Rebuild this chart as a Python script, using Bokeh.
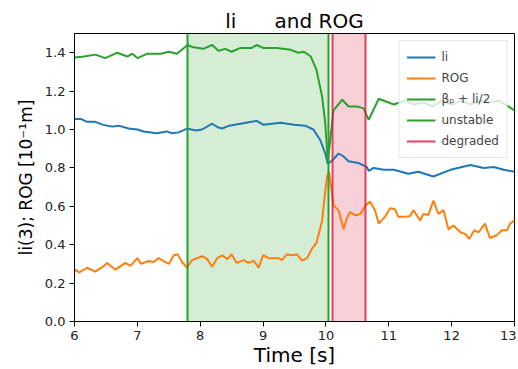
from bokeh.plotting import figure
from bokeh.embed import file_html
from bokeh.resources import INLINE
from bokeh.models import FixedTicker, Range1d, Legend, CustomJSTickFormatter

# ---- data ----
t_li = [6.0, 6.1, 6.2, 6.33, 6.46, 6.6, 6.7, 6.86, 7.0, 7.1, 7.31, 7.47, 7.55, 7.66, 7.79,
        7.93, 8.03, 8.19, 8.29, 8.35, 8.46, 8.64, 8.9, 9.0, 9.28, 9.49, 9.67, 9.8, 9.91,
        9.99, 10.03, 10.12, 10.2, 10.28, 10.36, 10.52, 10.65, 10.68, 10.76, 10.92, 11.08,
        11.31, 11.47, 11.71, 11.98, 12.3, 12.51, 12.67, 12.83, 13.0]
li = [1.055, 1.055, 1.04, 1.04, 1.024, 1.015, 1.02, 1.005, 1.0, 0.99, 0.98, 0.99, 0.98, 0.985,
      1.005, 0.995, 1.0, 1.03, 1.01, 1.005, 1.02, 1.03, 1.045, 1.025, 1.035, 1.025, 1.02, 1.0,
      0.945, 0.875, 0.82, 0.845, 0.875, 0.86, 0.835, 0.825, 0.805, 0.785, 0.8, 0.79, 0.79,
      0.77, 0.78, 0.755, 0.79, 0.815, 0.8, 0.805, 0.79, 0.78]

t_rog = [6.0, 6.02, 6.07, 6.2, 6.33, 6.47, 6.52, 6.65, 6.81, 6.89, 7.0, 7.06, 7.18, 7.26, 7.34,
         7.39, 7.5, 7.58, 7.64, 7.71, 7.79, 7.87, 8.03, 8.11, 8.19, 8.27, 8.35, 8.43, 8.5,
         8.58, 8.69, 8.77, 8.85, 8.93, 9.0, 9.09, 9.25, 9.3, 9.38, 9.46, 9.54, 9.62, 9.7,
         9.78, 9.85, 9.94, 9.99, 10.02, 10.05, 10.12, 10.2, 10.28, 10.33, 10.38, 10.47,
         10.55, 10.63, 10.7, 10.78, 10.84, 10.94, 11.02, 11.1, 11.15, 11.26, 11.34, 11.39,
         11.5, 11.55, 11.63, 11.71, 11.79, 11.87, 11.95, 12.03, 12.14, 12.22, 12.28, 12.36,
         12.43, 12.53, 12.61, 12.72, 12.8, 12.88, 12.93, 13.0]
rog = [0.26, 0.27, 0.255, 0.28, 0.26, 0.29, 0.305, 0.27, 0.305, 0.29, 0.33, 0.3, 0.315, 0.31,
       0.33, 0.32, 0.3, 0.345, 0.35, 0.31, 0.28, 0.32, 0.34, 0.325, 0.285, 0.33, 0.345, 0.325,
       0.35, 0.305, 0.32, 0.305, 0.317, 0.28, 0.345, 0.33, 0.33, 0.32, 0.35, 0.345, 0.35,
       0.317, 0.33, 0.38, 0.41, 0.525, 0.68, 0.76, 0.78, 0.605, 0.58, 0.48, 0.535, 0.57,
       0.553, 0.56, 0.605, 0.625, 0.58, 0.51, 0.545, 0.59, 0.585, 0.545, 0.545, 0.55, 0.58,
       0.527, 0.56, 0.555, 0.63, 0.56, 0.58, 0.48, 0.5, 0.465, 0.455, 0.43, 0.475, 0.465,
       0.51, 0.435, 0.45, 0.475, 0.475, 0.51, 0.527]

t_bp = [6.0, 6.15, 6.33, 6.49, 6.68, 6.84, 6.92, 7.0, 7.16, 7.37, 7.5, 7.63, 7.8, 7.87, 8.05,
        8.19, 8.29, 8.4, 8.5, 8.64, 8.82, 8.9, 9.0, 9.22, 9.44, 9.56, 9.65, 9.76, 9.85, 9.94,
        9.99, 10.03, 10.12, 10.26, 10.36, 10.5, 10.6, 10.68, 10.84, 11.08, 11.25, 11.4,
        11.55, 11.7, 11.85, 12.0, 12.15, 12.3, 12.45, 12.6, 12.75, 12.9, 13.0]
bp = [1.375, 1.38, 1.39, 1.372, 1.4, 1.38, 1.395, 1.372, 1.395, 1.395, 1.405, 1.395, 1.44,
      1.43, 1.42, 1.44, 1.41, 1.42, 1.405, 1.425, 1.425, 1.44, 1.425, 1.425, 1.415, 1.4,
      1.405, 1.38, 1.31, 1.17, 1.03, 0.83, 1.1, 1.155, 1.12, 1.12, 1.11, 1.05, 1.16, 1.13,
      1.15, 1.13, 1.14, 1.12, 1.15, 1.13, 1.15, 1.13, 1.15, 1.14, 1.15, 1.12, 1.1]

unstable_t = [7.8, 10.04]
degraded_t = [10.1, 10.63]

x_ticks = [6, 7, 8, 9, 10, 11, 12, 13]
y_ticks = [0.0, 0.2, 0.4, 0.6, 0.8, 1.0, 1.2, 1.4]

FONT = "DejaVu Sans"
C_BLUE, C_ORANGE, C_GREEN, C_RED = "#1f77b4", "#ff7f0e", "#2ca02c", "#dc143c"

p = figure(width=516, height=369, output_backend="svg", toolbar_location=None,
           x_range=Range1d(6, 13), y_range=Range1d(0, 1.5),
           min_border_left=74, min_border_right=2, min_border_top=33, min_border_bottom=48)

p.title.text = "li\u00a0\u00a0\u00a0\u00a0\u00a0\u00a0and ROG"
p.title.align = "center"
p.title.text_font = FONT
p.title.text_font_size = "20px"
p.title.text_font_style = "normal"
p.title.text_color = "black"
p.title.standoff = 2

p.xgrid.visible = False
p.ygrid.visible = False
p.outline_line_color = "black"
p.outline_line_width = 1

# shaded regions
p.vstrip(x0=[unstable_t[0]], x1=[unstable_t[1]], fill_color=C_GREEN, fill_alpha=0.2, line_color=None)
p.vstrip(x0=[degraded_t[0]], x1=[degraded_t[1]], fill_color=C_RED, fill_alpha=0.2, line_color=None)

r1 = p.line(t_li, li, line_color=C_BLUE, line_width=2)
r2 = p.line(t_rog, rog, line_color=C_ORANGE, line_width=2)
r3 = p.line(t_bp, bp, line_color=C_GREEN, line_width=2)
r4 = p.vspan(x=unstable_t, line_color=C_GREEN, line_width=2)
r5 = p.vspan(x=degraded_t, line_color=C_RED, line_width=2, line_alpha=0.8)

legend = Legend(items=[("li", [r1]), ("ROG", [r2]), ("βₚ + li/2", [r3]),
                       ("unstable", [r4]), ("degraded", [r5])],
                location="top_right")
legend.label_text_font = FONT
legend.label_text_font_size = "12px"
legend.glyph_width = 29
legend.glyph_height = 18
legend.label_height = 18
legend.label_standoff = 6
legend.spacing = 3
legend.padding = 7
legend.margin = 7
legend.border_line_color = "#cccccc"
legend.background_fill_alpha = 0.8
p.add_layout(legend)

for ax in (p.xaxis, p.yaxis):
    ax.axis_line_color = "black"
    ax.major_tick_line_color = "black"
    ax.minor_tick_line_color = None
    ax.major_tick_out = 5
    ax.major_tick_in = 0
    ax.major_label_standoff = 4
    ax.major_label_text_font = FONT
    ax.major_label_text_font_size = "13px"
    ax.major_label_text_color = "#222222"
    ax.axis_label_text_font = FONT
    ax.axis_label_text_font_style = "normal"
    ax.axis_label_text_color = "black"

p.xaxis.axis_label_text_font_size = "20px"
p.yaxis.axis_label_text_font_size = "17px"
p.xaxis.ticker = FixedTicker(ticks=x_ticks)
p.yaxis.ticker = FixedTicker(ticks=y_ticks)
p.yaxis.formatter = CustomJSTickFormatter(code="return tick.toFixed(1);")
p.xaxis.axis_label = "Time [s]"
p.yaxis.axis_label = "li(3); ROG [10⁻¹m]"
p.xaxis.axis_label_standoff = 0
p.yaxis.axis_label_standoff = 6

open("out.html", "w").write(file_html(p, INLINE))
